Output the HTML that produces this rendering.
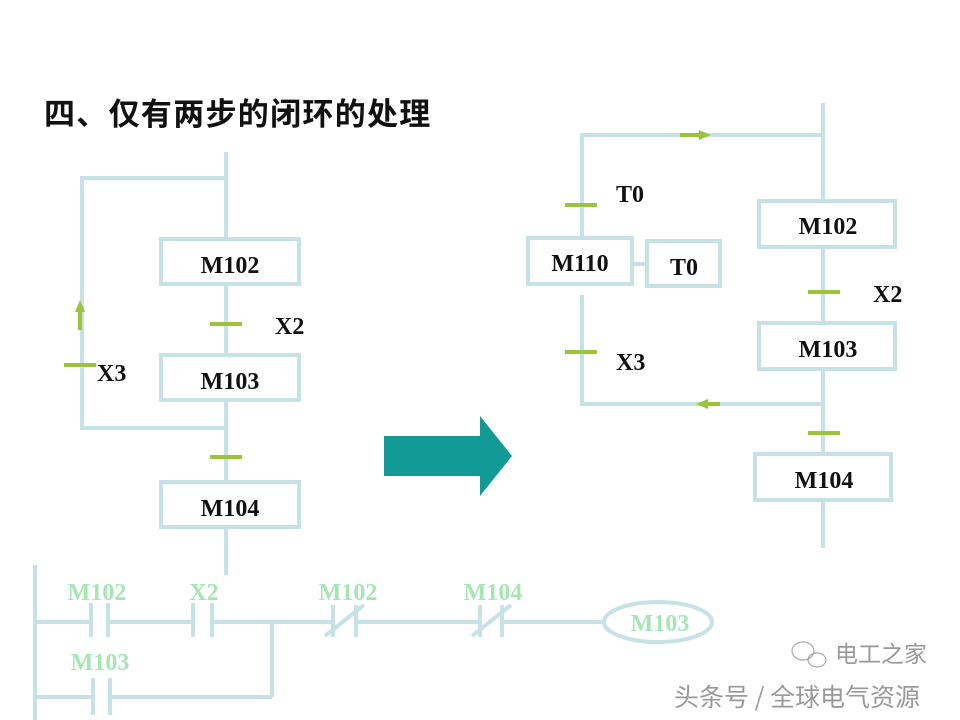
<!DOCTYPE html>
<html><head><meta charset="utf-8"><style>
html,body{margin:0;padding:0;background:#fff;}
svg{display:block;}
.b{font-family:"Liberation Serif",serif;font-weight:bold;font-size:24px;fill:#111;}
.g{font-family:"Liberation Serif",serif;font-weight:bold;font-size:24px;fill:#a6e6b4;}
</style></head><body>
<svg width="960" height="720" viewBox="0 0 960 720" xmlns="http://www.w3.org/2000/svg">
<rect width="960" height="720" fill="#fff"/>
<text x="44" y="125" style="font-family:'Liberation Sans','Noto Sans CJK SC',sans-serif;font-weight:bold;font-size:31px;letter-spacing:1.3px;fill:#111">四、仅有两步的闭环的处理</text>

<g stroke="#c6e2e6" stroke-width="4" fill="none">
<line x1="226" y1="152" x2="226" y2="238"/>
<line x1="226" y1="284" x2="226" y2="354"/>
<line x1="226" y1="400" x2="226" y2="481"/>
<line x1="226" y1="527" x2="226" y2="575"/>
<polyline points="226,178 82,178 82,428 226,428"/>
<rect x="161" y="239" width="138" height="45" fill="#fff"/>
<rect x="161" y="355" width="138" height="45" fill="#fff"/>
<rect x="161" y="482" width="138" height="45" fill="#fff"/>
<line x1="823" y1="103" x2="823" y2="548"/>
<polyline points="823,135 582,135 582,236"/>
<polyline points="582,295 582,404 823,404"/>
<rect x="759" y="201" width="136" height="46" fill="#fff"/>
<rect x="759" y="323" width="136" height="46" fill="#fff"/>
<rect x="755" y="454" width="136" height="46" fill="#fff"/>
<rect x="528" y="238" width="104" height="46" fill="#fff"/>
<rect x="647" y="241" width="73" height="45" fill="#fff"/>
<line x1="632" y1="264" x2="647" y2="264"/>
<line x1="35" y1="565" x2="35" y2="720"/>
<line x1="35" y1="622" x2="91" y2="622"/>
<line x1="108" y1="622" x2="193" y2="622"/>
<line x1="212" y1="622" x2="333" y2="622"/>
<line x1="356" y1="622" x2="480" y2="622"/>
<line x1="502" y1="622" x2="604" y2="622"/>
<line x1="272" y1="622" x2="272" y2="697"/>
<line x1="35" y1="697" x2="93" y2="697"/>
<line x1="110" y1="697" x2="272" y2="697"/>
<line x1="91" y1="603" x2="91" y2="637"/><line x1="108" y1="603" x2="108" y2="637"/>
<line x1="193" y1="603" x2="193" y2="637"/><line x1="212" y1="603" x2="212" y2="637"/>
<line x1="333" y1="605" x2="333" y2="637"/><line x1="356" y1="605" x2="356" y2="637"/>
<line x1="325" y1="636" x2="364" y2="605"/>
<line x1="480" y1="605" x2="480" y2="637"/><line x1="502" y1="605" x2="502" y2="637"/>
<line x1="472" y1="636" x2="511" y2="605"/>
<line x1="93" y1="678" x2="93" y2="715"/><line x1="110" y1="678" x2="110" y2="715"/>
<ellipse cx="658" cy="622" rx="54" ry="20"/>
</g>

<g stroke="#9cc43a" stroke-width="4">
<line x1="210" y1="324" x2="242" y2="324"/>
<line x1="210" y1="457" x2="242" y2="457"/>
<line x1="64" y1="365" x2="96" y2="365"/>
<line x1="80" y1="330" x2="80" y2="310"/>
<line x1="808" y1="292" x2="840" y2="292"/>
<line x1="808" y1="433" x2="840" y2="433"/>
<line x1="565" y1="205" x2="597" y2="205"/>
<line x1="565" y1="352" x2="597" y2="352"/>
<line x1="680" y1="135" x2="700" y2="135"/>
<line x1="700" y1="404" x2="720" y2="404"/>
</g>
<polygon points="80,300 75,312 85,312" fill="#9cc43a"/>
<polygon points="711,135 699,130 699,140" fill="#9cc43a"/>
<polygon points="696,404 708,399 708,409" fill="#9cc43a"/>

<polygon points="384,436 480,436 480,416 512,456 480,496 480,476 384,476" fill="#119a96"/>

<g class="b">
<text x="230" y="273" text-anchor="middle">M102</text>
<text x="230" y="389" text-anchor="middle">M103</text>
<text x="230" y="516" text-anchor="middle">M104</text>
<text x="275" y="334">X2</text>
<text x="97" y="381">X3</text>
<text x="828" y="234" text-anchor="middle">M102</text>
<text x="828" y="357" text-anchor="middle">M103</text>
<text x="824" y="488" text-anchor="middle">M104</text>
<text x="580" y="271" text-anchor="middle">M110</text>
<text x="684" y="275" text-anchor="middle">T0</text>
<text x="616" y="202">T0</text>
<text x="616" y="370">X3</text>
<text x="873" y="302">X2</text>
</g>
<g class="g">
<text x="97" y="600" text-anchor="middle">M102</text>
<text x="204" y="600" text-anchor="middle">X2</text>
<text x="348" y="600" text-anchor="middle">M102</text>
<text x="493" y="600" text-anchor="middle">M104</text>
<text x="100" y="670" text-anchor="middle">M103</text>
<text x="660" y="631" text-anchor="middle">M103</text>
</g>
<g fill="none" stroke="#aaa" stroke-width="1.2">
<ellipse cx="803" cy="651" rx="11" ry="9"/>
<ellipse cx="817" cy="660" rx="9" ry="7"/>
</g>
<g style="font-family:'Noto Sans CJK SC',sans-serif;fill:#999">
<text x="835" y="662" style="font-size:23px">电工之家</text>
<text x="674" y="706" style="font-size:25px">头条号 / 全球电气资源</text>
</g>
</svg>
</body></html>
